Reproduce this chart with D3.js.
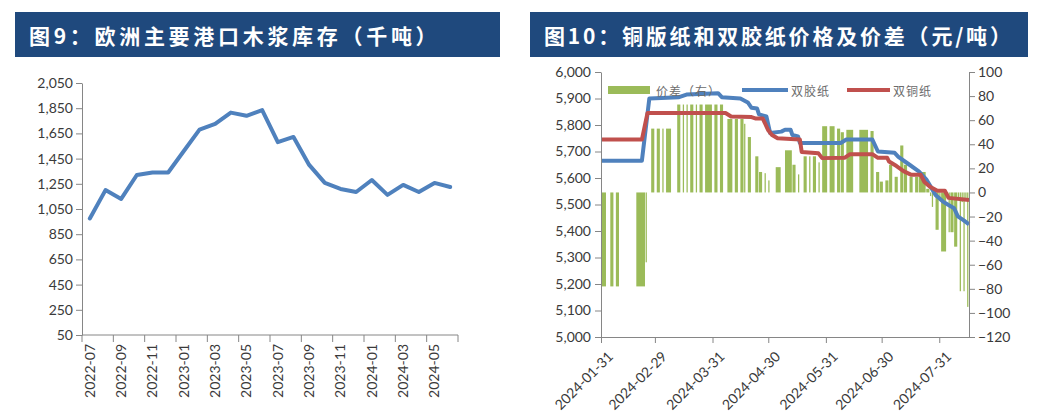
<!DOCTYPE html>
<html>
<head>
<meta charset="utf-8">
<script src="https://cdn.jsdelivr.net/npm/d3@7"></script>
<style>
body{margin:0;background:#fff;}
svg{display:block;font-family:Lato,"Noto Sans CJK SC",sans-serif;}
.title{font-family:"Noto Sans CJK SC";font-weight:bold;font-size:21px;fill:#fff;letter-spacing:3px;}
.axis path,.axis line{stroke:#868686;}
.axis text{font-family:Lato,sans-serif;font-size:14px;fill:#3a3a3a;}
.legend text{font-family:"Noto Sans CJK SC";font-size:12px;fill:#6b6b6b;letter-spacing:1px;}
</style>
</head>
<body>
<svg id="chart" width="1052" height="420"></svg>
<script>
// 图9 欧洲主要港口木浆库存（千吨）
const stockMonths = ["2022-07","2022-08","2022-09","2022-10","2022-11","2022-12",
  "2023-01","2023-02","2023-03","2023-04","2023-05","2023-06",
  "2023-07","2023-08","2023-09","2023-10","2023-11","2023-12",
  "2024-01","2024-02","2024-03","2024-04","2024-05","2024-06"];
const stockValues = [975,1200,1130,1320,1340,1340,1510,1680,1725,1815,1790,1835,
  1580,1622,1400,1257,1209,1185,1280,1162,1241,1185,1257,1225];
const stockTicks = [50,250,450,650,850,1050,1250,1450,1650,1850,2050];

// 图10 铜版纸和双胶纸价格及价差（元/吨）
const jiaoPrice = [ // 双胶纸
  ["2024-01-31",5665],["2024-02-22",5665],["2024-02-26",5900],["2024-03-13",5905],
  ["2024-03-17",5915],["2024-04-03",5920],["2024-04-05",5905],["2024-04-15",5900],
  ["2024-04-19",5885],["2024-04-21",5865],["2024-04-24",5862],["2024-04-25",5840],
  ["2024-04-29",5832],["2024-05-01",5770],["2024-05-07",5775],["2024-05-09",5782],
  ["2024-05-12",5782],["2024-05-13",5762],["2024-05-16",5757],["2024-05-17",5732],
  ["2024-06-08",5732],["2024-06-11",5745],["2024-06-25",5745],["2024-06-28",5700],
  ["2024-07-07",5695],["2024-07-09",5680],["2024-07-15",5650],["2024-07-20",5625],
  ["2024-07-24",5595],["2024-07-27",5560],["2024-07-29",5536],["2024-08-02",5511],
  ["2024-08-05",5498],["2024-08-08",5486],["2024-08-10",5455],["2024-08-13",5441],
  ["2024-08-16",5425]];
const tongPrice = [ // 双铜纸
  ["2024-01-31",5745],["2024-02-22",5745],["2024-02-25",5845],["2024-04-07",5845],
  ["2024-04-10",5832],["2024-04-21",5830],["2024-04-23",5825],["2024-04-27",5825],
  ["2024-04-30",5780],["2024-05-02",5762],["2024-05-05",5750],["2024-05-17",5745],
  ["2024-05-18",5698],["2024-05-27",5693],["2024-05-29",5675],["2024-06-10",5676],
  ["2024-06-13",5690],["2024-06-25",5690],["2024-06-28",5676],["2024-07-03",5676],
  ["2024-07-04",5662],["2024-07-08",5645],["2024-07-12",5625],["2024-07-16",5612],
  ["2024-07-21",5612],["2024-07-23",5585],["2024-07-26",5567],["2024-07-30",5552],
  ["2024-08-03",5552],["2024-08-05",5525],["2024-08-16",5517]];
const spreadBars = [ // 价差（右）: first day, last day, value
  ["2024-01-31","2024-02-02",-78],["2024-02-05","2024-02-06",-78],["2024-02-08","2024-02-09",-78],
  ["2024-02-19","2024-02-23",-78],["2024-02-24","2024-02-24",-58],
  ["2024-02-27","2024-02-28",53],["2024-03-01","2024-03-02",53],["2024-03-04","2024-03-04",53],
  ["2024-03-06","2024-03-08",53],["2024-03-12","2024-03-13",73],["2024-03-15","2024-03-15",73],
  ["2024-03-17","2024-03-17",73],["2024-03-19","2024-03-20",73],["2024-03-22","2024-03-22",73],
  ["2024-03-24","2024-03-25",73],["2024-03-27","2024-03-30",73],["2024-04-01","2024-04-02",73],
  ["2024-04-04","2024-04-05",73],["2024-04-08","2024-04-10",61],["2024-04-12","2024-04-13",61],
  ["2024-04-15","2024-04-16",61],["2024-04-17","2024-04-17",57],["2024-04-19","2024-04-20",46],
  ["2024-04-23","2024-04-24",30],["2024-04-25","2024-04-26",17],["2024-04-28","2024-04-28",16],
  ["2024-04-30","2024-04-30",10],["2024-05-04","2024-05-06",21],["2024-05-09","2024-05-12",35],
  ["2024-05-13","2024-05-14",23],["2024-05-16","2024-05-16",15],["2024-05-19","2024-05-20",30],
  ["2024-05-22","2024-05-22",30],["2024-05-24","2024-05-25",30],["2024-05-27","2024-05-27",25],
  ["2024-05-29","2024-05-31",55],["2024-06-02","2024-06-04",55],["2024-06-06","2024-06-07",53],
  ["2024-06-08","2024-06-09",50],["2024-06-11","2024-06-14",52],["2024-06-18","2024-06-22",52],
  ["2024-06-24","2024-06-25",51],["2024-06-27","2024-06-28",17],["2024-06-29","2024-06-30",9],
  ["2024-07-02","2024-07-03",10],["2024-07-04","2024-07-05",23],["2024-07-07","2024-07-08",13],
  ["2024-07-10","2024-07-11",39],["2024-07-12","2024-07-13",23],["2024-07-15","2024-07-16",13],
  ["2024-07-18","2024-07-19",13],["2024-07-20","2024-07-23",17],["2024-07-24","2024-07-25",3],
  ["2024-07-26","2024-07-26",-3],["2024-07-27","2024-07-27",-12],["2024-07-29","2024-07-30",-31],
  ["2024-07-31","2024-07-31",-5],["2024-08-01","2024-08-03",-49],["2024-08-04","2024-08-04",-3],
  ["2024-08-05","2024-08-05",-33],["2024-08-06","2024-08-07",-33],["2024-08-08","2024-08-09",-45],
  ["2024-08-10","2024-08-10",-4],["2024-08-11","2024-08-11",-82],["2024-08-12","2024-08-12",-8],
  ["2024-08-13","2024-08-13",-82],["2024-08-14","2024-08-14",-6],["2024-08-15","2024-08-15",-95]];
const priceTicks = [5000,5100,5200,5300,5400,5500,5600,5700,5800,5900,6000];
const spreadTicks = [-120,-100,-80,-60,-40,-20,0,20,40,60,80,100];
const dateTicks = ["2024-01-31","2024-02-29","2024-03-31","2024-04-30","2024-05-31","2024-06-30","2024-07-31"];
const dateRange = ["2024-01-31","2024-08-16"];

const svg = d3.select("#chart");
const parse = d3.timeParse("%Y-%m-%d");

// title bars
function addTitle(x, w, label, spacing){
  svg.append("rect").attr("x",x).attr("y",12).attr("width",w).attr("height",45).attr("fill","#1f497d");
  svg.append("text").attr("class","title").attr("x",x+14).attr("y",35)
    .attr("dominant-baseline","central").style("letter-spacing",spacing + "px").text(label);
}
addTitle(15, 485, "图9：欧洲主要港口木浆库存（千吨）", 3.7);
addTitle(530, 498, "图10：铜版纸和双胶纸价格及价差（元/吨）", 2.8);

// ---------- 图9 ----------
let x9 = d3.scaleBand().domain(stockMonths).range([82,458]);
let y9 = d3.scaleLinear().domain([50,2050]).range([335,83]);

svg.append("g").attr("class","axis").attr("transform","translate(82,0)")
  .call(d3.axisLeft(y9).tickValues(stockTicks).tickFormat(d3.format(",")).tickSize(6).tickSizeOuter(0).tickPadding(3));

let xa = svg.append("g").attr("class","axis");
xa.append("line").attr("x1",82).attr("x2",458).attr("y1",335).attr("y2",335);
let tickMonths = stockMonths.filter((m,i) => i % 2 == 0);
xa.selectAll(".t9").data(tickMonths.map(m => x9(m)).concat([x9.range()[1]]))
  .enter().append("line").attr("class","t9")
  .attr("x1",d => d).attr("x2",d => d).attr("y1",335).attr("y2",342);
xa.selectAll(".l9").data(tickMonths).enter().append("text")
  .attr("class","l9")
  .attr("transform",d => "translate(" + (x9(d) + x9.bandwidth()/2) + ",344) rotate(-90)")
  .attr("text-anchor","end").attr("dy","0.35em")
  .text(d => d);

svg.append("path").datum(stockValues)
  .attr("fill","none").attr("stroke","#4f81bd").attr("stroke-width",4)
  .attr("stroke-linejoin","round").attr("stroke-linecap","round")
  .attr("d", d3.line().x((d,i) => x9(stockMonths[i]) + x9.bandwidth()/2).y(d => y9(d)));

// ---------- 图10 ----------
let xt = d3.scaleTime().domain(dateRange.map(parse)).range([601,969]);
let yl = d3.scaleLinear().domain([5000,6000]).range([337,72]);
let yr = d3.scaleLinear().domain([-120,100]).range([337,72]);

svg.append("g").selectAll("rect").data(spreadBars).enter().append("rect")
  .attr("x",d => xt(parse(d[0])))
  .attr("width",d => Math.max(1, xt(d3.timeDay.offset(parse(d[1]),1)) - xt(parse(d[0])) - 0.6))
  .attr("y",d => yr(Math.max(0,d[2])))
  .attr("height",d => Math.abs(yr(d[2]) - yr(0)))
  .attr("fill","#9bbb59");

let priceLine = d3.line().x(d => xt(parse(d[0]))).y(d => yl(d[1]));
svg.append("path").datum(jiaoPrice)
  .attr("fill","none").attr("stroke","#4f81bd").attr("stroke-width",4)
  .attr("stroke-linejoin","round").attr("d",priceLine);
svg.append("path").datum(tongPrice)
  .attr("fill","none").attr("stroke","#c0504d").attr("stroke-width",4)
  .attr("stroke-linejoin","round").attr("d",priceLine);

svg.append("g").attr("class","axis").attr("transform","translate(601,0)")
  .call(d3.axisLeft(yl).tickValues(priceTicks).tickFormat(d3.format(",")).tickSize(6).tickSizeOuter(0).tickPadding(4));
svg.append("g").attr("class","axis").attr("transform","translate(969,0)")
  .call(d3.axisRight(yr).tickValues(spreadTicks).tickFormat(d3.format("d")).tickSize(6).tickSizeOuter(0).tickPadding(3));
let xb = svg.append("g").attr("class","axis").attr("transform","translate(0,337)")
  .call(d3.axisBottom(xt).tickValues(dateTicks.map(parse)).tickFormat(d3.timeFormat("%Y-%m-%d")).tickSize(6).tickSizeOuter(0));
xb.selectAll(".tick text")
  .attr("text-anchor","end")
  .attr("transform","translate(9,17) rotate(-45)")
  .attr("dy","0.35em").attr("y",0).attr("x",0);

// legend
let lg = svg.append("g").attr("class","legend");
lg.append("rect").attr("x",608).attr("y",86).attr("width",42).attr("height",8).attr("fill","#9bbb59");
lg.append("text").attr("x",656).attr("y",90).attr("dominant-baseline","central").text("价差（右）");
lg.append("line").attr("x1",742).attr("x2",788).attr("y1",90).attr("y2",90).attr("stroke","#4f81bd").attr("stroke-width",4);
lg.append("text").attr("x",791).attr("y",90).attr("dominant-baseline","central").text("双胶纸");
lg.append("line").attr("x1",847).attr("x2",890).attr("y1",90).attr("y2",90).attr("stroke","#c0504d").attr("stroke-width",4);
lg.append("text").attr("x",893).attr("y",90).attr("dominant-baseline","central").text("双铜纸");
</script>
</body>
</html>
